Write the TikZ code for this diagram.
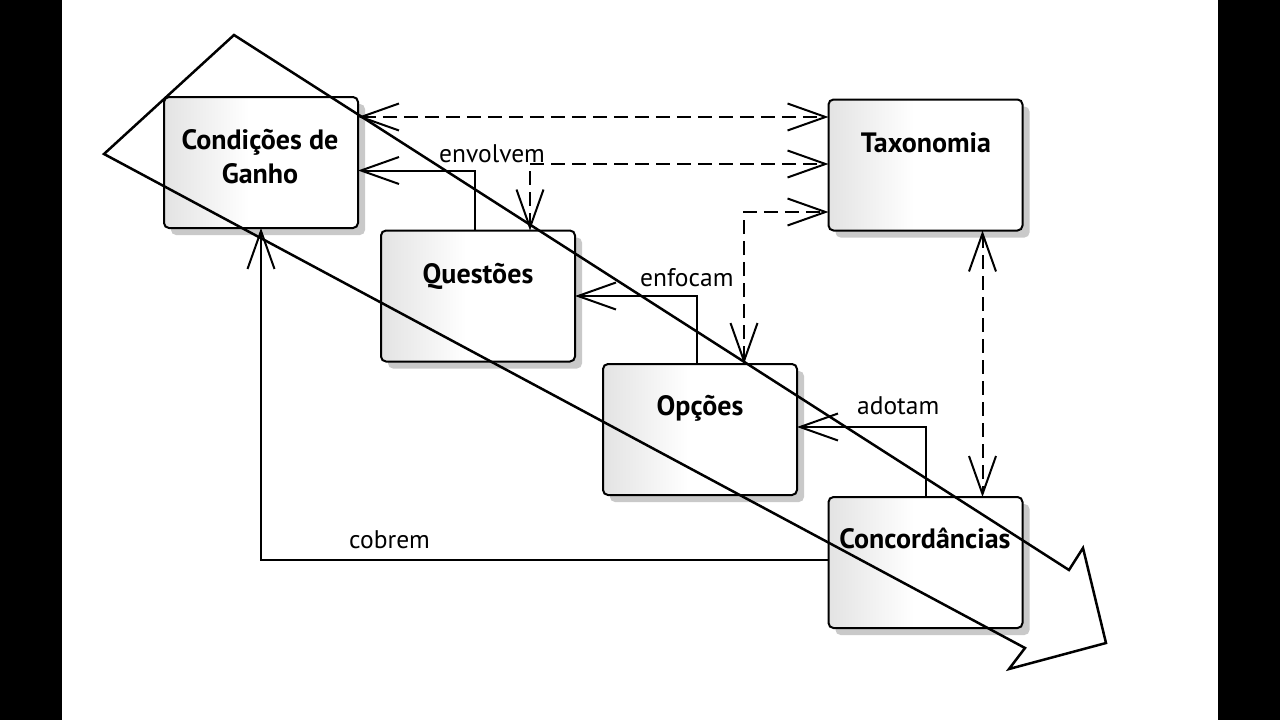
\documentclass[tikz,border=0pt]{standalone}
\usepackage{fontspec}
\setmainfont{PT Sans}
\usetikzlibrary{arrows.meta,shadows,calc}
\pgfdeclarehorizontalshading{boxshade}{100bp}{color(0bp)=(black!11); color(25bp)=(black!11); color(47bp)=(white); color(100bp)=(white)}
\tikzset{
  box/.style={draw, line width=2pt, rounded corners=5pt, minimum width=194pt, minimum height=131pt,
    inner sep=0pt, outer sep=0pt, shading=boxshade, shading angle=0,
    general shadow={fill=black!21, shadow xshift=7pt, shadow yshift=-7pt}},
  title/.style={font=\fontsize{28}{32}\selectfont\bfseries, anchor=base, inner sep=0pt},
  lbl/.style={font=\fontsize{25.5}{30}\selectfont, anchor=base west, inner sep=0pt},
  conn/.style={line width=2pt},
  dsh/.style={line width=2pt, dash pattern=on 14pt off 7pt},
  barb/.tip={Straight Barb[length=38pt, width=27pt, line width=2pt]},
}
\begin{document}
\begin{tikzpicture}[x=1pt,y=-1pt]
\useasboundingbox (0,0) rectangle (1280,720);
\fill[black] (0,0) rectangle (62,720);
\fill[black] (1218,0) rectangle (1280,720);
% boxes
\node[box] (cg) at (261,162.5) {};
\node[box] (tax) at (925.5,165) {};
\node[box] (que) at (478,296) {};
\node[box] (opc) at (700,429.5) {};
\node[box] (con) at (925.5,562.5) {};
% titles
\node[title] (tcg1) at (260,149) {Condições de};
\node[title] (tcg2) at (260,183) {Ganho};
\node[title] (ttax) at (926,152) {Taxonomia};
\node[title] (tque) at (478,283) {Questões};
\node[title] (topc) at (700,415) {Opções};
\node[title] (tcon) at (925,548) {Concordâncias};
% dashed connectors
\coordinate (d1a) at ([yshift=-20pt]cg.north east);
\draw[dsh, barb-barb] (d1a) -- (tax.west |- d1a);
\coordinate (d2a) at ([xshift=52pt]que.north);
\draw[dsh, barb-barb] (d2a) |- ([yshift=1pt]tax.west);
\coordinate (d3a) at ([xshift=44pt]opc.north);
\draw[dsh, barb-barb] (d3a) |- ([yshift=-47pt]tax.west);
\coordinate (d4a) at ([xshift=57pt]tax.south);
\draw[dsh, barb-barb] (d4a) -- (con.north -| d4a);
% solid connectors
\draw[conn, -barb] ([xshift=-3pt]que.north) |- ([yshift=-8pt]cg.east);
\draw[conn, -barb] ([xshift=-3pt]opc.north) |- (que.east);
\draw[conn, -barb] (con.north) |- ([yshift=2.5pt]opc.east);
\draw[conn, -barb] ([yshift=2.5pt]con.west) -| (cg.south);
% labels
\node[lbl] (lenv) at (439,162) {envolvem};
\node[lbl] (lenf) at (640,286) {enfocam};
\node[lbl] (lado) at (857,414) {adotam};
\node[lbl] (lcob) at (349,548) {cobrem};
% big arrow
\draw[line width=2.5pt, line join=miter] (234,35) -- (1069,570) -- (1083,548) -- (1106,643) -- (1009,669) -- (1025,648) -- (104,154) -- cycle;
\end{tikzpicture}
\end{document}
